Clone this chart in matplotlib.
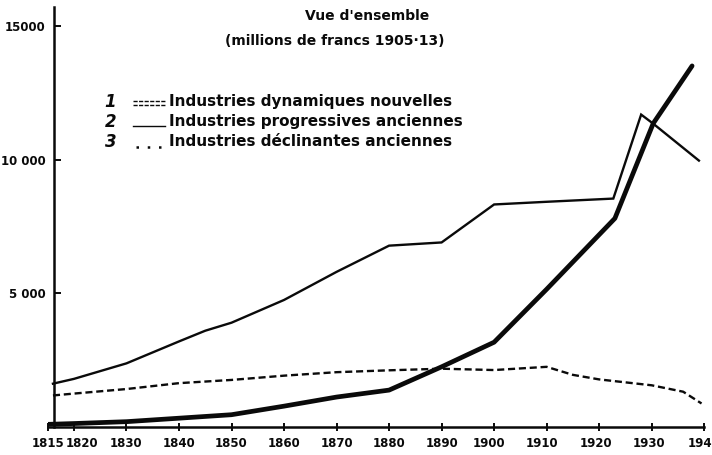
import matplotlib
matplotlib.use("Agg")
import matplotlib.pyplot as plt
from matplotlib.lines import Line2D
from matplotlib.transforms import ScaledTranslation

# ── Series (millions de francs 1905-13) ──────────────────────────
years_dyn = [1815, 1820, 1830, 1840, 1850, 1855, 1860, 1870, 1880, 1890,
             1900, 1910, 1923, 1930.3, 1937.7]
vals_dyn = [100, 130, 200, 330, 460, 620, 780, 1120, 1380, 2250,
            3170, 5150, 7800, 11350, 13500]

years_prog = [1816, 1820, 1830, 1840, 1845, 1850, 1860, 1870, 1880, 1890,
              1900, 1910, 1922.7, 1928, 1930.3, 1939]
vals_prog = [1620, 1800, 2380, 3200, 3600, 3900, 4750, 5800, 6780, 6900,
             8320, 8420, 8540, 11680, 11340, 9960]

years_decl = [1816, 1820, 1830, 1840, 1850, 1860, 1870, 1880, 1890,
              1900, 1910, 1915, 1920, 1930, 1936, 1939.5]
vals_decl = [1180, 1250, 1420, 1640, 1760, 1920, 2050, 2120, 2180,
             2130, 2250, 1950, 1780, 1560, 1320, 880]

x_ticks = [1815, 1820, 1830, 1840, 1850, 1860, 1870, 1880, 1890,
           1900, 1910, 1920, 1930, 1940]
y_ticks = [5000, 10000, 15000]
y_labels = ["5 000", "10 000", "15000"]

legend_labels = ["Industries dynamiques nouvelles",
                 "Industries progressives anciennes",
                 "Industries déclinantes anciennes"]

INK = "#0a0a0a"
FONT = ["DejaVu Sans"]

fig = plt.figure(figsize=(7.12, 4.55), dpi=100, facecolor="white")
ax = fig.add_axes([0.067, 0.0615, 0.922, 0.923])
ax.set_xlim(1815, 1940)
ax.set_ylim(0, 15700)

ax.plot(years_decl, vals_decl, color=INK, lw=1.7, dashes=(3.0, 1.6))
ax.plot(years_prog, vals_prog, color=INK, lw=1.7, solid_joinstyle="miter")
ax.plot(years_dyn, vals_dyn, color=INK, lw=3.4, solid_capstyle="round")

for s in ("top", "right"):
    ax.spines[s].set_visible(False)
ax.spines["left"].set_position(("data", 1816.2))
for s in ("left", "bottom"):
    ax.spines[s].set_linewidth(1.8)
    ax.spines[s].set_color(INK)

ax.set_xticks(x_ticks)
ax.set_xticklabels([str(y) for y in x_ticks])
ax.set_yticks(y_ticks)
ax.set_yticklabels(y_labels)
ax.tick_params(axis="x", direction="inout", length=6, width=1.4,
               pad=4, labelsize=8.5, colors=INK)
ax.tick_params(axis="y", direction="in", length=5, width=1.4,
               pad=6, labelsize=8.5, colors=INK)
for lab in ax.get_xticklabels() + ax.get_yticklabels():
    lab.set_fontweight("bold")
    lab.set_family(FONT)

# 1820 is nudged right so it clears 1815; later labels sit a bit left
nudge = {1: 8, 9: -5, 10: -5, 11: -3, 12: -3}
for i, dx in nudge.items():
    lab = ax.get_xticklabels()[i]
    lab.set_transform(lab.get_transform()
                      + ScaledTranslation(dx / 100, 0, fig.dpi_scale_trans))

# ── Title ──
fig.text(0.515, 0.965, "Vue d'ensemble", ha="center", va="center",
         fontsize=10, fontweight="bold", family=FONT, color=INK)
fig.text(0.47, 0.910, "(millions de francs 1905·13)", ha="center",
         va="center", fontsize=10, fontweight="bold", family=FONT,
         color=INK)

# ── Legend, numbered by hand ──
rows_y = [0.776, 0.732, 0.688]
for i, (label, yy) in enumerate(zip(legend_labels, rows_y)):
    fig.text(0.155, yy, str(i + 1), ha="center", va="center", fontsize=12,
             fontweight="bold", style="italic", family=FONT, color=INK)
    fig.text(0.238, yy, label, ha="left", va="center", fontsize=11,
             fontweight="bold", family=FONT, color=INK)
x0, x1 = 0.187, 0.232
fig.add_artist(Line2D([x0, x1], [rows_y[0] + 0.002] * 2, color=INK, lw=1.0,
                      dashes=(3, 1)))
fig.add_artist(Line2D([x0, x1], [rows_y[0] - 0.006] * 2, color=INK, lw=1.0,
                      dashes=(3, 1)))
fig.add_artist(Line2D([x0, x1], [rows_y[1] - 0.010] * 2, color=INK, lw=1.0))
fig.add_artist(Line2D([x0 + 0.004, x1], [rows_y[2] - 0.010] * 2, color=INK,
                      lw=1.8, dashes=(1, 3.5)))

fig.savefig("out.png", dpi=100, facecolor="white")
